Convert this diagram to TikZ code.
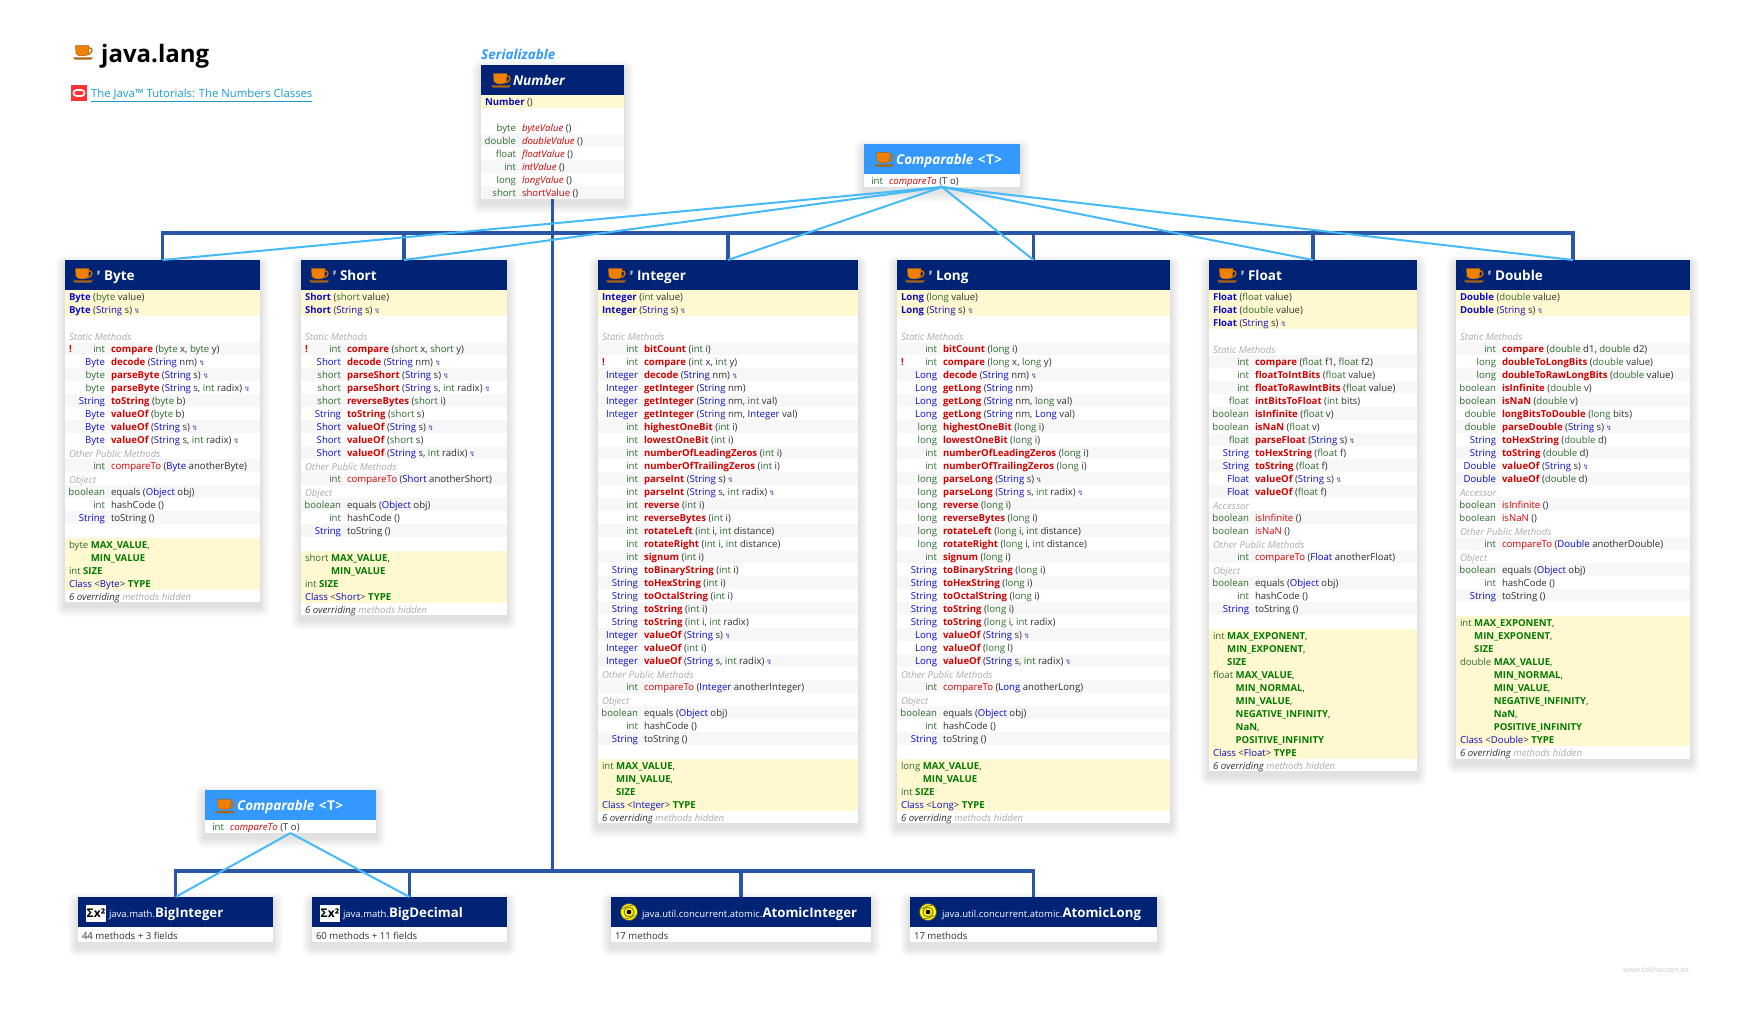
\documentclass[tikz,border=0pt]{standalone}
\usepackage{fontspec}
\setmainfont{Open Sans}
\newfontfamily\symfont{DejaVu Sans}
\usepackage{xcolor}
\definecolor{hdrcolor}{HTML}{012376}
\definecolor{compcolor}{HTML}{3399FF}
\definecolor{rowcolor}{HTML}{F7F7F7}
\definecolor{yelcolor}{HTML}{FFF8D0}
\definecolor{extcolor}{HTML}{2A57A5}
\definecolor{implcolor}{HTML}{46BAF9}
\definecolor{tycolor}{HTML}{2F6B2F}
\definecolor{clcolor}{HTML}{0A0ACC}
\definecolor{redcolor}{HTML}{D40000}
\definecolor{fldcolor}{HTML}{007A00}
\definecolor{txtcolor}{HTML}{303030}
\definecolor{labcolor}{HTML}{ABABAB}
\definecolor{thrcolor}{HTML}{4455AA}
\definecolor{cupcolor}{HTML}{F08000}
\definecolor{cupdark}{HTML}{A86414}
\definecolor{linkcolor}{HTML}{1A9BD0}
\definecolor{oraclecolor}{HTML}{FF3333}
\definecolor{sitecolor}{HTML}{C4CCDC}

\newcommand{\rowfont}{\fontsize{9.6}{12}\selectfont}
\newcommand{\hdrfont}{\fontsize{13.5}{16}\selectfont}
\newcommand{\pkgfont}{\fontsize{9.5}{12}\selectfont\mdseries}
\newcount\rowy
\newcount\shadeflag

\newcommand{\tyn}[1]{\textcolor{tycolor}{#1}}
\newcommand{\cln}[1]{\textcolor{clcolor}{#1}}
\newcommand{\cbn}[1]{\textcolor{clcolor}{\bfseries #1}}
\newcommand{\mbd}[1]{\textcolor{redcolor}{\bfseries #1}}
\newcommand{\mrg}[1]{\textcolor{redcolor}{#1}}
\newcommand{\mital}[1]{\textcolor{redcolor}{\itshape #1}}
\newcommand{\fld}[1]{\textcolor{fldcolor}{\bfseries #1}}
\newcommand{\ind}[1]{\hphantom{\tyn{#1}\ }}
\newcommand{\thr}{\kern2pt{\symfont\fontsize{7}{7}\selectfont\textcolor{thrcolor}{↯}}}
\newcommand{\Tint}{\tyn{int}}
\newcommand{\Str}{\cln{String}}
\newcommand{\gent}{\upshape\ \kern1pt<\kern.5pt T\kern.5pt>}

\tikzset{
  boxbody/.style={fill=white,inner sep=0,outer sep=0},
  boxhead/.style={inner sep=0,outer sep=0,minimum height=30pt},
  rowtxt/.style={inner sep=0,outer sep=0,font=\rowfont,text=txtcolor},
  hdrtxt/.style={inner sep=0,outer sep=0,font=\hdrfont\bfseries,text=white,anchor=base west},
  sigmabox/.style={fill=white,inner sep=0,minimum width=20pt,minimum height=17pt,font=\fontsize{12}{12}\selectfont\bfseries},
  atomdisc/.style={circle,fill=yellow,draw=black!70,line width=.6pt,inner sep=0,minimum size=17pt},
  extline/.style={extcolor,line width=3.3pt},
  implline/.style={implcolor,line width=2pt},
  cupicon/.pic={
    \fill[cupdark] (0,12.4) -- (20,12.4) -- (18,14.6) -- (2,14.6) -- cycle;
    \draw[cupcolor!85!black,line width=1.4pt] (15,2.8) .. controls (20.5,1.8) and (20.5,9) .. (14,9.4);
    \fill[cupcolor,draw=cupdark,line width=.5pt] (2.5,.7) -- (16,.7) -- (15.5,8.5) .. controls (15,11.8) and (4,11.8) .. (3,8.5) -- cycle;
  },
  atomicon/.pic={
    \draw[black!75,line width=.6pt] (0,0) circle (5);
    \draw[black!60,line width=.5pt] (-6.5,-3) .. controls (-3,-6) and (1,-7) .. (4,-6.5);
    \draw[black!60,line width=.5pt] (6.5,3) .. controls (3,6) and (-1,7) .. (-4,6.5);
    \fill[black] (0,0) circle (2.3);
  }
}

% name, x0, x1, y0, y1, header colour, method column
\newcommand{\classbox}[7]{%
  \foreach \s in {1,...,10} {\fill[black,opacity=.0105,rounded corners=\s] (#2-\s,#4-\s+5) rectangle (#3+\s,#5+\s+5);}
  \node[boxbody,minimum width={(#3-#2)*1pt},minimum height={(#5-#4)*1pt}] (#1) at ({(#2+#3)/2},{(#4+#5)/2}) {};
  \node[boxhead,fill=#6,minimum width={(#3-#2)*1pt}] (#1-h) at ({(#2+#3)/2},#4+15) {};
  \def\bname{#1}\def\bxa{#2}\def\bxb{#3}\def\bxm{#7}
  \global\rowy=#4 \global\advance\rowy by 30
  \global\shadeflag=1
}
\newcommand{\javahead}[4]{% name, x0, y0, title
  \pic at (#2+8,#3+8) {cupicon};
  \node[hdrtxt,font=\fontsize{6}{6}\selectfont\bfseries] (#1-f) at (#2+32,#3+15) {F};
  \node[hdrtxt] (#1-t) at (#2+39,#3+20) {#4};
}
\newcommand{\ifacehead}[4]{% name, x0, y0, title
  \pic at (#2+10,#3+8) {cupicon};
  \node[hdrtxt] (#1-t) at (#2+32,#3+20) {#4};
}
\newcommand{\skiprow}[1]{\global\advance\rowy by #1 }
\newcommand{\yrow}[1]{%
  \fill[yelcolor] (\bxa,\the\rowy) rectangle (\bxb,\the\rowy+13);
  \node[rowtxt,anchor=base west] (\bname\the\rowy y) at (\bxa+4,\the\rowy+10) {#1};
  \skiprow{13}
}
\newcommand{\ysep}{\draw[white,line width=.9pt] (\bxa,\the\rowy) -- (\bxb,\the\rowy);}
\newcommand{\lab}[1]{%
  \node[rowtxt,anchor=base west,text=labcolor,font=\rowfont\itshape] (\bname\the\rowy l) at (\bxa+4,\the\rowy+11) {#1};
  \skiprow{13}
  \global\shadeflag=1
}
\newcommand{\mrow}[2]{%
  \ifnum\shadeflag=1 \fill[rowcolor] (\bxa,\the\rowy) rectangle (\bxb,\the\rowy+13); \fi
  \node[rowtxt,anchor=base east] (\bname\the\rowy t) at (\bxm-6,\the\rowy+10) {#1};
  \node[rowtxt,anchor=base west] (\bname\the\rowy m) at (\bxm,\the\rowy+10) {#2};
  \skiprow{13}
  \global\shadeflag=\numexpr1-\shadeflag\relax
}
\newcommand{\warnrow}[2]{%
  \mrow{#1}{#2}
  \node[rowtxt,anchor=base west,text=redcolor,font=\rowfont\bfseries] (\bname\the\rowy w) at (\bxa+4,\the\rowy-3) {!};
}
\newcommand{\hid}{\node[rowtxt,anchor=base west,font=\rowfont\itshape] (\bname-hid) at (\bxa+4,\the\rowy+10) {6 overriding \textcolor{labcolor}{methods hidden}};}
\newcommand{\bigbox}[3]{% name, x0, x1
  \classbox{#1}{#2}{#3}{897}{942}{hdrcolor}{#2}
}

\begin{document}
\begin{tikzpicture}[x=1pt,y=-1pt]
\useasboundingbox (0,0) rectangle (1746,1015);
\fill[white] (0,0) rectangle (1746,1015);

% title and link
\pic at (73,45) {cupicon};
\node[inner sep=0,anchor=base west,font=\fontsize{24}{28}\selectfont\bfseries] (title) at (101,62) {java.lang};
\node[fill=oraclecolor,inner sep=0,minimum width=16pt,minimum height=16pt] (oracle) at (79,93) {};
\draw[white,line width=1.6pt,rounded corners=3pt] (73.5,90) rectangle (84.5,96);
\node[inner sep=0,anchor=base west,font=\fontsize{11.3}{13}\selectfont,text=linkcolor] (tutorial) at (91,97.5) {\underline{The Java™ Tutorials: The Numbers Classes}};

% Number
\node[inner sep=0,anchor=base west,font=\hdrfont\bfseries\itshape,text=compcolor] (serial) at (481,59) {Serializable};
\classbox{number}{481}{624}{65}{199}{hdrcolor}{522}
\ifacehead{number}{481}{65}{\itshape Number}
\yrow{\cbn{Number} ()}
\skiprow{13}
\global\shadeflag=0
\mrow{\tyn{byte}}{\mital{byteValue} ()}
\mrow{\tyn{double}}{\mital{doubleValue} ()}
\mrow{\tyn{float}}{\mital{floatValue} ()}
\mrow{\Tint}{\mital{intValue} ()}
\mrow{\tyn{long}}{\mital{longValue} ()}
\mrow{\tyn{short}}{\mrg{shortValue} ()}

% Comparable, top
\classbox{cmptop}{864}{1020}{144}{187}{compcolor}{889}
\ifacehead{cmptop}{864}{144}{\itshape Comparable\gent}
\global\shadeflag=0
\mrow{\Tint}{\mital{compareTo} (T o)}

% Byte
\classbox{byte}{65}{260}{260}{602}{hdrcolor}{111}
\javahead{byte}{65}{260}{Byte}
\yrow{\cbn{Byte} (\tyn{byte} value)}\ysep
\yrow{\cbn{Byte} (\Str\ s)\thr}
\skiprow{13}
\lab{Static Methods}
\warnrow{\Tint}{\mbd{compare} (\tyn{byte} x, \tyn{byte} y)}
\mrow{\cln{Byte}}{\mbd{decode} (\Str\ nm)\thr}
\mrow{\tyn{byte}}{\mbd{parseByte} (\Str\ s)\thr}
\mrow{\tyn{byte}}{\mbd{parseByte} (\Str\ s, \Tint\ radix)\thr}
\mrow{\Str}{\mbd{toString} (\tyn{byte} b)}
\mrow{\cln{Byte}}{\mbd{valueOf} (\tyn{byte} b)}
\mrow{\cln{Byte}}{\mbd{valueOf} (\Str\ s)\thr}
\mrow{\cln{Byte}}{\mbd{valueOf} (\Str\ s, \Tint\ radix)\thr}
\lab{Other Public Methods}
\mrow{\Tint}{\mrg{compareTo} (\cln{Byte} anotherByte)}
\lab{Object}
\mrow{\tyn{boolean}}{equals (\cln{Object} obj)}
\mrow{\Tint}{hashCode ()}
\mrow{\Str}{toString ()}
\skiprow{14}
\yrow{\tyn{byte} \fld{MAX\_VALUE},}
\yrow{\ind{byte}\fld{MIN\_VALUE}}\ysep
\yrow{\Tint\ \fld{SIZE}}\ysep
\yrow{\cln{Class} <\cln{Byte}> \fld{TYPE}}
\hid

% Short
\classbox{short}{301}{507}{260}{615}{hdrcolor}{347}
\javahead{short}{301}{260}{Short}
\yrow{\cbn{Short} (\tyn{short} value)}\ysep
\yrow{\cbn{Short} (\Str\ s)\thr}
\skiprow{13}
\lab{Static Methods}
\warnrow{\Tint}{\mbd{compare} (\tyn{short} x, \tyn{short} y)}
\mrow{\cln{Short}}{\mbd{decode} (\Str\ nm)\thr}
\mrow{\tyn{short}}{\mbd{parseShort} (\Str\ s)\thr}
\mrow{\tyn{short}}{\mbd{parseShort} (\Str\ s, \Tint\ radix)\thr}
\mrow{\tyn{short}}{\mbd{reverseBytes} (\tyn{short} i)}
\mrow{\Str}{\mbd{toString} (\tyn{short} s)}
\mrow{\cln{Short}}{\mbd{valueOf} (\Str\ s)\thr}
\mrow{\cln{Short}}{\mbd{valueOf} (\tyn{short} s)}
\mrow{\cln{Short}}{\mbd{valueOf} (\Str\ s, \Tint\ radix)\thr}
\lab{Other Public Methods}
\mrow{\Tint}{\mrg{compareTo} (\cln{Short} anotherShort)}
\lab{Object}
\mrow{\tyn{boolean}}{equals (\cln{Object} obj)}
\mrow{\Tint}{hashCode ()}
\mrow{\Str}{toString ()}
\skiprow{14}
\yrow{\tyn{short} \fld{MAX\_VALUE},}
\yrow{\ind{short}\fld{MIN\_VALUE}}\ysep
\yrow{\Tint\ \fld{SIZE}}\ysep
\yrow{\cln{Class} <\cln{Short}> \fld{TYPE}}
\hid

% Integer
\classbox{integer}{598}{858}{260}{823}{hdrcolor}{644}
\javahead{integer}{598}{260}{Integer}
\yrow{\cbn{Integer} (\Tint\ value)}\ysep
\yrow{\cbn{Integer} (\Str\ s)\thr}
\skiprow{13}
\lab{Static Methods}
\mrow{\Tint}{\mbd{bitCount} (\Tint\ i)}
\warnrow{\Tint}{\mbd{compare} (\Tint\ x, \Tint\ y)}
\mrow{\cln{Integer}}{\mbd{decode} (\Str\ nm)\thr}
\mrow{\cln{Integer}}{\mbd{getInteger} (\Str\ nm)}
\mrow{\cln{Integer}}{\mbd{getInteger} (\Str\ nm, \Tint\ val)}
\mrow{\cln{Integer}}{\mbd{getInteger} (\Str\ nm, \cln{Integer} val)}
\mrow{\Tint}{\mbd{highestOneBit} (\Tint\ i)}
\mrow{\Tint}{\mbd{lowestOneBit} (\Tint\ i)}
\mrow{\Tint}{\mbd{numberOfLeadingZeros} (\Tint\ i)}
\mrow{\Tint}{\mbd{numberOfTrailingZeros} (\Tint\ i)}
\mrow{\Tint}{\mbd{parseInt} (\Str\ s)\thr}
\mrow{\Tint}{\mbd{parseInt} (\Str\ s, \Tint\ radix)\thr}
\mrow{\Tint}{\mbd{reverse} (\Tint\ i)}
\mrow{\Tint}{\mbd{reverseBytes} (\Tint\ i)}
\mrow{\Tint}{\mbd{rotateLeft} (\Tint\ i, \Tint\ distance)}
\mrow{\Tint}{\mbd{rotateRight} (\Tint\ i, \Tint\ distance)}
\mrow{\Tint}{\mbd{signum} (\Tint\ i)}
\mrow{\Str}{\mbd{toBinaryString} (\Tint\ i)}
\mrow{\Str}{\mbd{toHexString} (\Tint\ i)}
\mrow{\Str}{\mbd{toOctalString} (\Tint\ i)}
\mrow{\Str}{\mbd{toString} (\Tint\ i)}
\mrow{\Str}{\mbd{toString} (\Tint\ i, \Tint\ radix)}
\mrow{\cln{Integer}}{\mbd{valueOf} (\Str\ s)\thr}
\mrow{\cln{Integer}}{\mbd{valueOf} (\Tint\ i)}
\mrow{\cln{Integer}}{\mbd{valueOf} (\Str\ s, \Tint\ radix)\thr}
\lab{Other Public Methods}
\mrow{\Tint}{\mrg{compareTo} (\cln{Integer} anotherInteger)}
\lab{Object}
\mrow{\tyn{boolean}}{equals (\cln{Object} obj)}
\mrow{\Tint}{hashCode ()}
\mrow{\Str}{toString ()}
\skiprow{14}
\yrow{\Tint\ \fld{MAX\_VALUE},}
\yrow{\ind{int}\fld{MIN\_VALUE},}
\yrow{\ind{int}\fld{SIZE}}\ysep
\yrow{\cln{Class} <\cln{Integer}> \fld{TYPE}}
\hid

% Long
\classbox{long}{897}{1170}{260}{823}{hdrcolor}{943}
\javahead{long}{897}{260}{Long}
\yrow{\cbn{Long} (\tyn{long} value)}\ysep
\yrow{\cbn{Long} (\Str\ s)\thr}
\skiprow{13}
\lab{Static Methods}
\mrow{\Tint}{\mbd{bitCount} (\tyn{long} i)}
\warnrow{\Tint}{\mbd{compare} (\tyn{long} x, \tyn{long} y)}
\mrow{\cln{Long}}{\mbd{decode} (\Str\ nm)\thr}
\mrow{\cln{Long}}{\mbd{getLong} (\Str\ nm)}
\mrow{\cln{Long}}{\mbd{getLong} (\Str\ nm, \tyn{long} val)}
\mrow{\cln{Long}}{\mbd{getLong} (\Str\ nm, \cln{Long} val)}
\mrow{\tyn{long}}{\mbd{highestOneBit} (\tyn{long} i)}
\mrow{\tyn{long}}{\mbd{lowestOneBit} (\tyn{long} i)}
\mrow{\Tint}{\mbd{numberOfLeadingZeros} (\tyn{long} i)}
\mrow{\Tint}{\mbd{numberOfTrailingZeros} (\tyn{long} i)}
\mrow{\tyn{long}}{\mbd{parseLong} (\Str\ s)\thr}
\mrow{\tyn{long}}{\mbd{parseLong} (\Str\ s, \Tint\ radix)\thr}
\mrow{\tyn{long}}{\mbd{reverse} (\tyn{long} i)}
\mrow{\tyn{long}}{\mbd{reverseBytes} (\tyn{long} i)}
\mrow{\tyn{long}}{\mbd{rotateLeft} (\tyn{long} i, \Tint\ distance)}
\mrow{\tyn{long}}{\mbd{rotateRight} (\tyn{long} i, \Tint\ distance)}
\mrow{\Tint}{\mbd{signum} (\tyn{long} i)}
\mrow{\Str}{\mbd{toBinaryString} (\tyn{long} i)}
\mrow{\Str}{\mbd{toHexString} (\tyn{long} i)}
\mrow{\Str}{\mbd{toOctalString} (\tyn{long} i)}
\mrow{\Str}{\mbd{toString} (\tyn{long} i)}
\mrow{\Str}{\mbd{toString} (\tyn{long} i, \Tint\ radix)}
\mrow{\cln{Long}}{\mbd{valueOf} (\Str\ s)\thr}
\mrow{\cln{Long}}{\mbd{valueOf} (\tyn{long} l)}
\mrow{\cln{Long}}{\mbd{valueOf} (\Str\ s, \Tint\ radix)\thr}
\lab{Other Public Methods}
\mrow{\Tint}{\mrg{compareTo} (\cln{Long} anotherLong)}
\lab{Object}
\mrow{\tyn{boolean}}{equals (\cln{Object} obj)}
\mrow{\Tint}{hashCode ()}
\mrow{\Str}{toString ()}
\skiprow{14}
\yrow{\tyn{long} \fld{MAX\_VALUE},}
\yrow{\ind{long}\fld{MIN\_VALUE}}\ysep
\yrow{\Tint\ \fld{SIZE}}\ysep
\yrow{\cln{Class} <\cln{Long}> \fld{TYPE}}
\hid

% Float
\classbox{float}{1209}{1417}{260}{771}{hdrcolor}{1255}
\javahead{float}{1209}{260}{Float}
\yrow{\cbn{Float} (\tyn{float} value)}\ysep
\yrow{\cbn{Float} (\tyn{double} value)}\ysep
\yrow{\cbn{Float} (\Str\ s)\thr}
\skiprow{13}
\lab{Static Methods}
\mrow{\Tint}{\mbd{compare} (\tyn{float} f1, \tyn{float} f2)}
\mrow{\Tint}{\mbd{floatToIntBits} (\tyn{float} value)}
\mrow{\Tint}{\mbd{floatToRawIntBits} (\tyn{float} value)}
\mrow{\tyn{float}}{\mbd{intBitsToFloat} (\Tint\ bits)}
\mrow{\tyn{boolean}}{\mbd{isInfinite} (\tyn{float} v)}
\mrow{\tyn{boolean}}{\mbd{isNaN} (\tyn{float} v)}
\mrow{\tyn{float}}{\mbd{parseFloat} (\Str\ s)\thr}
\mrow{\Str}{\mbd{toHexString} (\tyn{float} f)}
\mrow{\Str}{\mbd{toString} (\tyn{float} f)}
\mrow{\cln{Float}}{\mbd{valueOf} (\Str\ s)\thr}
\mrow{\cln{Float}}{\mbd{valueOf} (\tyn{float} f)}
\lab{Accessor}
\mrow{\tyn{boolean}}{\mrg{isInfinite} ()}
\mrow{\tyn{boolean}}{\mrg{isNaN} ()}
\lab{Other Public Methods}
\mrow{\Tint}{\mrg{compareTo} (\cln{Float} anotherFloat)}
\lab{Object}
\mrow{\tyn{boolean}}{equals (\cln{Object} obj)}
\mrow{\Tint}{hashCode ()}
\mrow{\Str}{toString ()}
\skiprow{14}
\yrow{\Tint\ \fld{MAX\_EXPONENT},}
\yrow{\ind{int}\fld{MIN\_EXPONENT},}
\yrow{\ind{int}\fld{SIZE}}\ysep
\yrow{\tyn{float} \fld{MAX\_VALUE},}
\yrow{\ind{float}\fld{MIN\_NORMAL},}
\yrow{\ind{float}\fld{MIN\_VALUE},}
\yrow{\ind{float}\fld{NEGATIVE\_INFINITY},}
\yrow{\ind{float}\fld{NaN},}
\yrow{\ind{float}\fld{POSITIVE\_INFINITY}}\ysep
\yrow{\cln{Class} <\cln{Float}> \fld{TYPE}}
\hid

% Double
\classbox{double}{1456}{1690}{260}{759}{hdrcolor}{1502}
\javahead{double}{1456}{260}{Double}
\yrow{\cbn{Double} (\tyn{double} value)}\ysep
\yrow{\cbn{Double} (\Str\ s)\thr}
\skiprow{13}
\lab{Static Methods}
\mrow{\Tint}{\mbd{compare} (\tyn{double} d1, \tyn{double} d2)}
\mrow{\tyn{long}}{\mbd{doubleToLongBits} (\tyn{double} value)}
\mrow{\tyn{long}}{\mbd{doubleToRawLongBits} (\tyn{double} value)}
\mrow{\tyn{boolean}}{\mbd{isInfinite} (\tyn{double} v)}
\mrow{\tyn{boolean}}{\mbd{isNaN} (\tyn{double} v)}
\mrow{\tyn{double}}{\mbd{longBitsToDouble} (\tyn{long} bits)}
\mrow{\tyn{double}}{\mbd{parseDouble} (\Str\ s)\thr}
\mrow{\Str}{\mbd{toHexString} (\tyn{double} d)}
\mrow{\Str}{\mbd{toString} (\tyn{double} d)}
\mrow{\cln{Double}}{\mbd{valueOf} (\Str\ s)\thr}
\mrow{\cln{Double}}{\mbd{valueOf} (\tyn{double} d)}
\lab{Accessor}
\mrow{\tyn{boolean}}{\mrg{isInfinite} ()}
\mrow{\tyn{boolean}}{\mrg{isNaN} ()}
\lab{Other Public Methods}
\mrow{\Tint}{\mrg{compareTo} (\cln{Double} anotherDouble)}
\lab{Object}
\mrow{\tyn{boolean}}{equals (\cln{Object} obj)}
\mrow{\Tint}{hashCode ()}
\mrow{\Str}{toString ()}
\skiprow{14}
\yrow{\Tint\ \fld{MAX\_EXPONENT},}
\yrow{\ind{int}\fld{MIN\_EXPONENT},}
\yrow{\ind{int}\fld{SIZE}}\ysep
\yrow{\tyn{double} \fld{MAX\_VALUE},}
\yrow{\ind{double}\fld{MIN\_NORMAL},}
\yrow{\ind{double}\fld{MIN\_VALUE},}
\yrow{\ind{double}\fld{NEGATIVE\_INFINITY},}
\yrow{\ind{double}\fld{NaN},}
\yrow{\ind{double}\fld{POSITIVE\_INFINITY}}\ysep
\yrow{\cln{Class} <\cln{Double}> \fld{TYPE}}
\hid

% Comparable, bottom
\classbox{cmpbot}{205}{376}{790}{833}{compcolor}{230}
\ifacehead{cmpbot}{205}{790.6}{\itshape Comparable\gent}
\global\shadeflag=0
\mrow{\Tint}{\mital{compareTo} (T o)}

% bottom row
\bigbox{bigint}{78}{273}
\node[sigmabox] (bigint-i) at (96,913.5) {Σx²};
\node[hdrtxt,font=\fontsize{13.2}{16}\selectfont\bfseries] (bigint-t) at (109,917.8) {{\pkgfont java.math.}BigInteger};
\node[rowtxt,anchor=base west] (bigint-c) at (82,939.2) {44 methods + 3 fields};
\bigbox{bigdec}{312}{507}
\node[sigmabox] (bigdec-i) at (330,913.5) {Σx²};
\node[hdrtxt,font=\fontsize{13.2}{16}\selectfont\bfseries] (bigdec-t) at (343,917.8) {{\pkgfont java.math.}BigDecimal};
\node[rowtxt,anchor=base west] (bigdec-c) at (316,939.2) {60 methods + 11 fields};
\bigbox{aint}{611}{871}
\node[atomdisc] (aint-i) at (629,912) {};
\pic at (aint-i) {atomicon};
\node[hdrtxt,font=\fontsize{13.2}{16}\selectfont\bfseries] (aint-t) at (642,917.8) {{\pkgfont java.util.concurrent.atomic.}AtomicInteger};
\node[rowtxt,anchor=base west] (aint-c) at (615,939.2) {17 methods};
\bigbox{along}{910}{1157}
\node[atomdisc] (along-i) at (928,912) {};
\pic at (along-i) {atomicon};
\node[hdrtxt,font=\fontsize{13.2}{16}\selectfont\bfseries] (along-t) at (942,917.8) {{\pkgfont java.util.concurrent.atomic.}AtomicLong};
\node[rowtxt,anchor=base west] (along-c) at (914,939.2) {17 methods};

\node[inner sep=0,anchor=base east,font=\fontsize{7.2}{8}\selectfont,text=sitecolor] (site) at (1689,972) {www.falkhausen.de};

% connectors
\coordinate (bustop) at (number.south |- 0,233);
\coordinate (busbot) at (number.south |- 0,871);
\draw[extline] (number.south) -- (busbot);
\foreach \n in {byte,short,integer,long,float,double} {
  \draw[extline] (bustop) -| (\n.north);
}
\foreach \n in {bigint,bigdec,aint,along} {
  \draw[extline] (busbot) -| (\n.north);
}
\foreach \n in {byte,short,integer,long,float,double} {
  \draw[implline] (cmptop.south) -- (\n.north);
}
\foreach \n in {bigint,bigdec} {
  \draw[implline] (cmpbot.south) -- (\n.north);
}
\end{tikzpicture}
\end{document}
